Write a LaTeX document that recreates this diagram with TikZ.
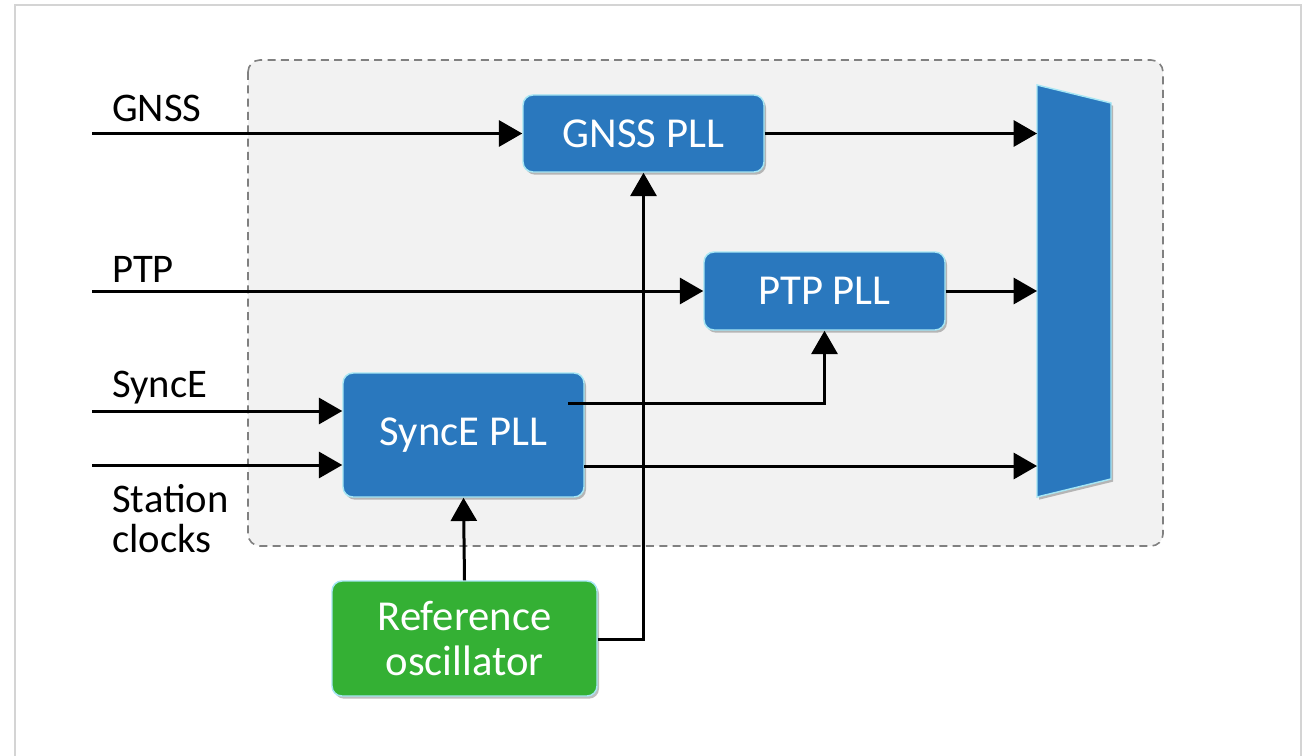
\documentclass[tikz,border=0pt]{standalone}
\usepackage{fontspec}
\setmainfont{Carlito}
\usetikzlibrary{arrows.meta,shadows,calc}
\definecolor{pllblue}{HTML}{2A78BE}
\definecolor{oscgreen}{HTML}{34B034}
\definecolor{edgecyan}{HTML}{A6E6F4}
\definecolor{panelgray}{HTML}{F2F2F2}
\definecolor{dashgray}{HTML}{808080}
\definecolor{framegray}{HTML}{D4D4D4}
\tikzset{
  blk/.style={draw=edgecyan, line width=1.1pt, rounded corners=7.5pt, text=white,
    font=\fontsize{32}{33.75}\selectfont, align=center, inner sep=0pt,
    drop shadow={shadow xshift=1.5pt, shadow yshift=-2pt, opacity=0.25, fill=black}},
  bluebox/.style={blk, fill=pllblue},
  greenbox/.style={blk, fill=oscgreen},
  lbl/.style={font=\fontsize{30.5}{30}\selectfont, inner sep=0pt, anchor=base west, align=left},
  sig/.style={line width=2.25pt, draw=black},
  arr/.style={sig, -{Triangle[length=17.5pt,width=19.5pt]}},
}
\begin{document}
\begin{tikzpicture}[x=0.75pt, y=-0.75pt]
\useasboundingbox (0,0) rectangle (1306,756);
% outer frame
\draw[framegray, line width=1.2pt] (15,760) -- (15,5) -- (1301,5) -- (1301,760);
% panel
\draw[dashgray, fill=panelgray, line width=1.2pt, dash pattern=on 6pt off 4pt, rounded corners=9pt]
  (248,60) rectangle (1163,546);
% blocks
\node[bluebox, minimum width=180.75pt, minimum height=57.75pt] (gnss) at (643.5,133.5) {GNSS PLL};
\node[bluebox, minimum width=180.75pt, minimum height=58.5pt] (ptp) at (824.5,291) {PTP PLL};
\node[bluebox, minimum width=180.75pt, minimum height=93pt] (synce) at (463.5,435) {SyncE PLL};
\node[greenbox, minimum width=198.75pt, minimum height=86.25pt] (ref) at (464.5,638.5) {Reference\\oscillator};
% mux
\path[fill=pllblue, draw=edgecyan, line width=1.1pt,
  drop shadow={shadow xshift=1.5pt, shadow yshift=-2pt, opacity=0.25, fill=black}]
  (1037,85) -- (1111,103) -- (1111,479) -- (1037,497) -- cycle;
\coordinate (mux1) at (1037,133.5);
\coordinate (mux2) at (1037,291);
\coordinate (mux3) at (1037,466);
% input coordinates
\coordinate (in1) at (92,133.5);
\coordinate (in2) at (92,291);
\coordinate (in3) at (92,411);
\coordinate (in4) at (92,465);
\coordinate (sy1) at (568,403);
\coordinate (sy2) at (584,466);
\coordinate (rf1) at (597,639);
% labels
\node[lbl] (lg) at (112,122) {GNSS};
\node[lbl] (lp) at (112,282) {PTP};
\node[lbl] (ls) at (112,397) {SyncE};
\node[lbl] (lst) at (112,552) {Station\\clocks};
% connectors
\draw[arr] (in1) -- (gnss.west);
\draw[arr] (in2) -- (ptp.west);
\draw[arr] (in3) -- (in3 -| synce.west);
\draw[arr] (in4) -- (in4 -| synce.west);
\draw[arr] (gnss.east) -- (mux1);
\draw[arr] (ptp.east) -- (mux2);
\draw[arr] (sy2) -- (mux3);
\draw[arr] (sy1) -| (ptp.south);
\draw[arr] (ref.north) -- (synce.south);
\draw[arr] (rf1 -| ref.east) -| (gnss.south);
\end{tikzpicture}
\end{document}
